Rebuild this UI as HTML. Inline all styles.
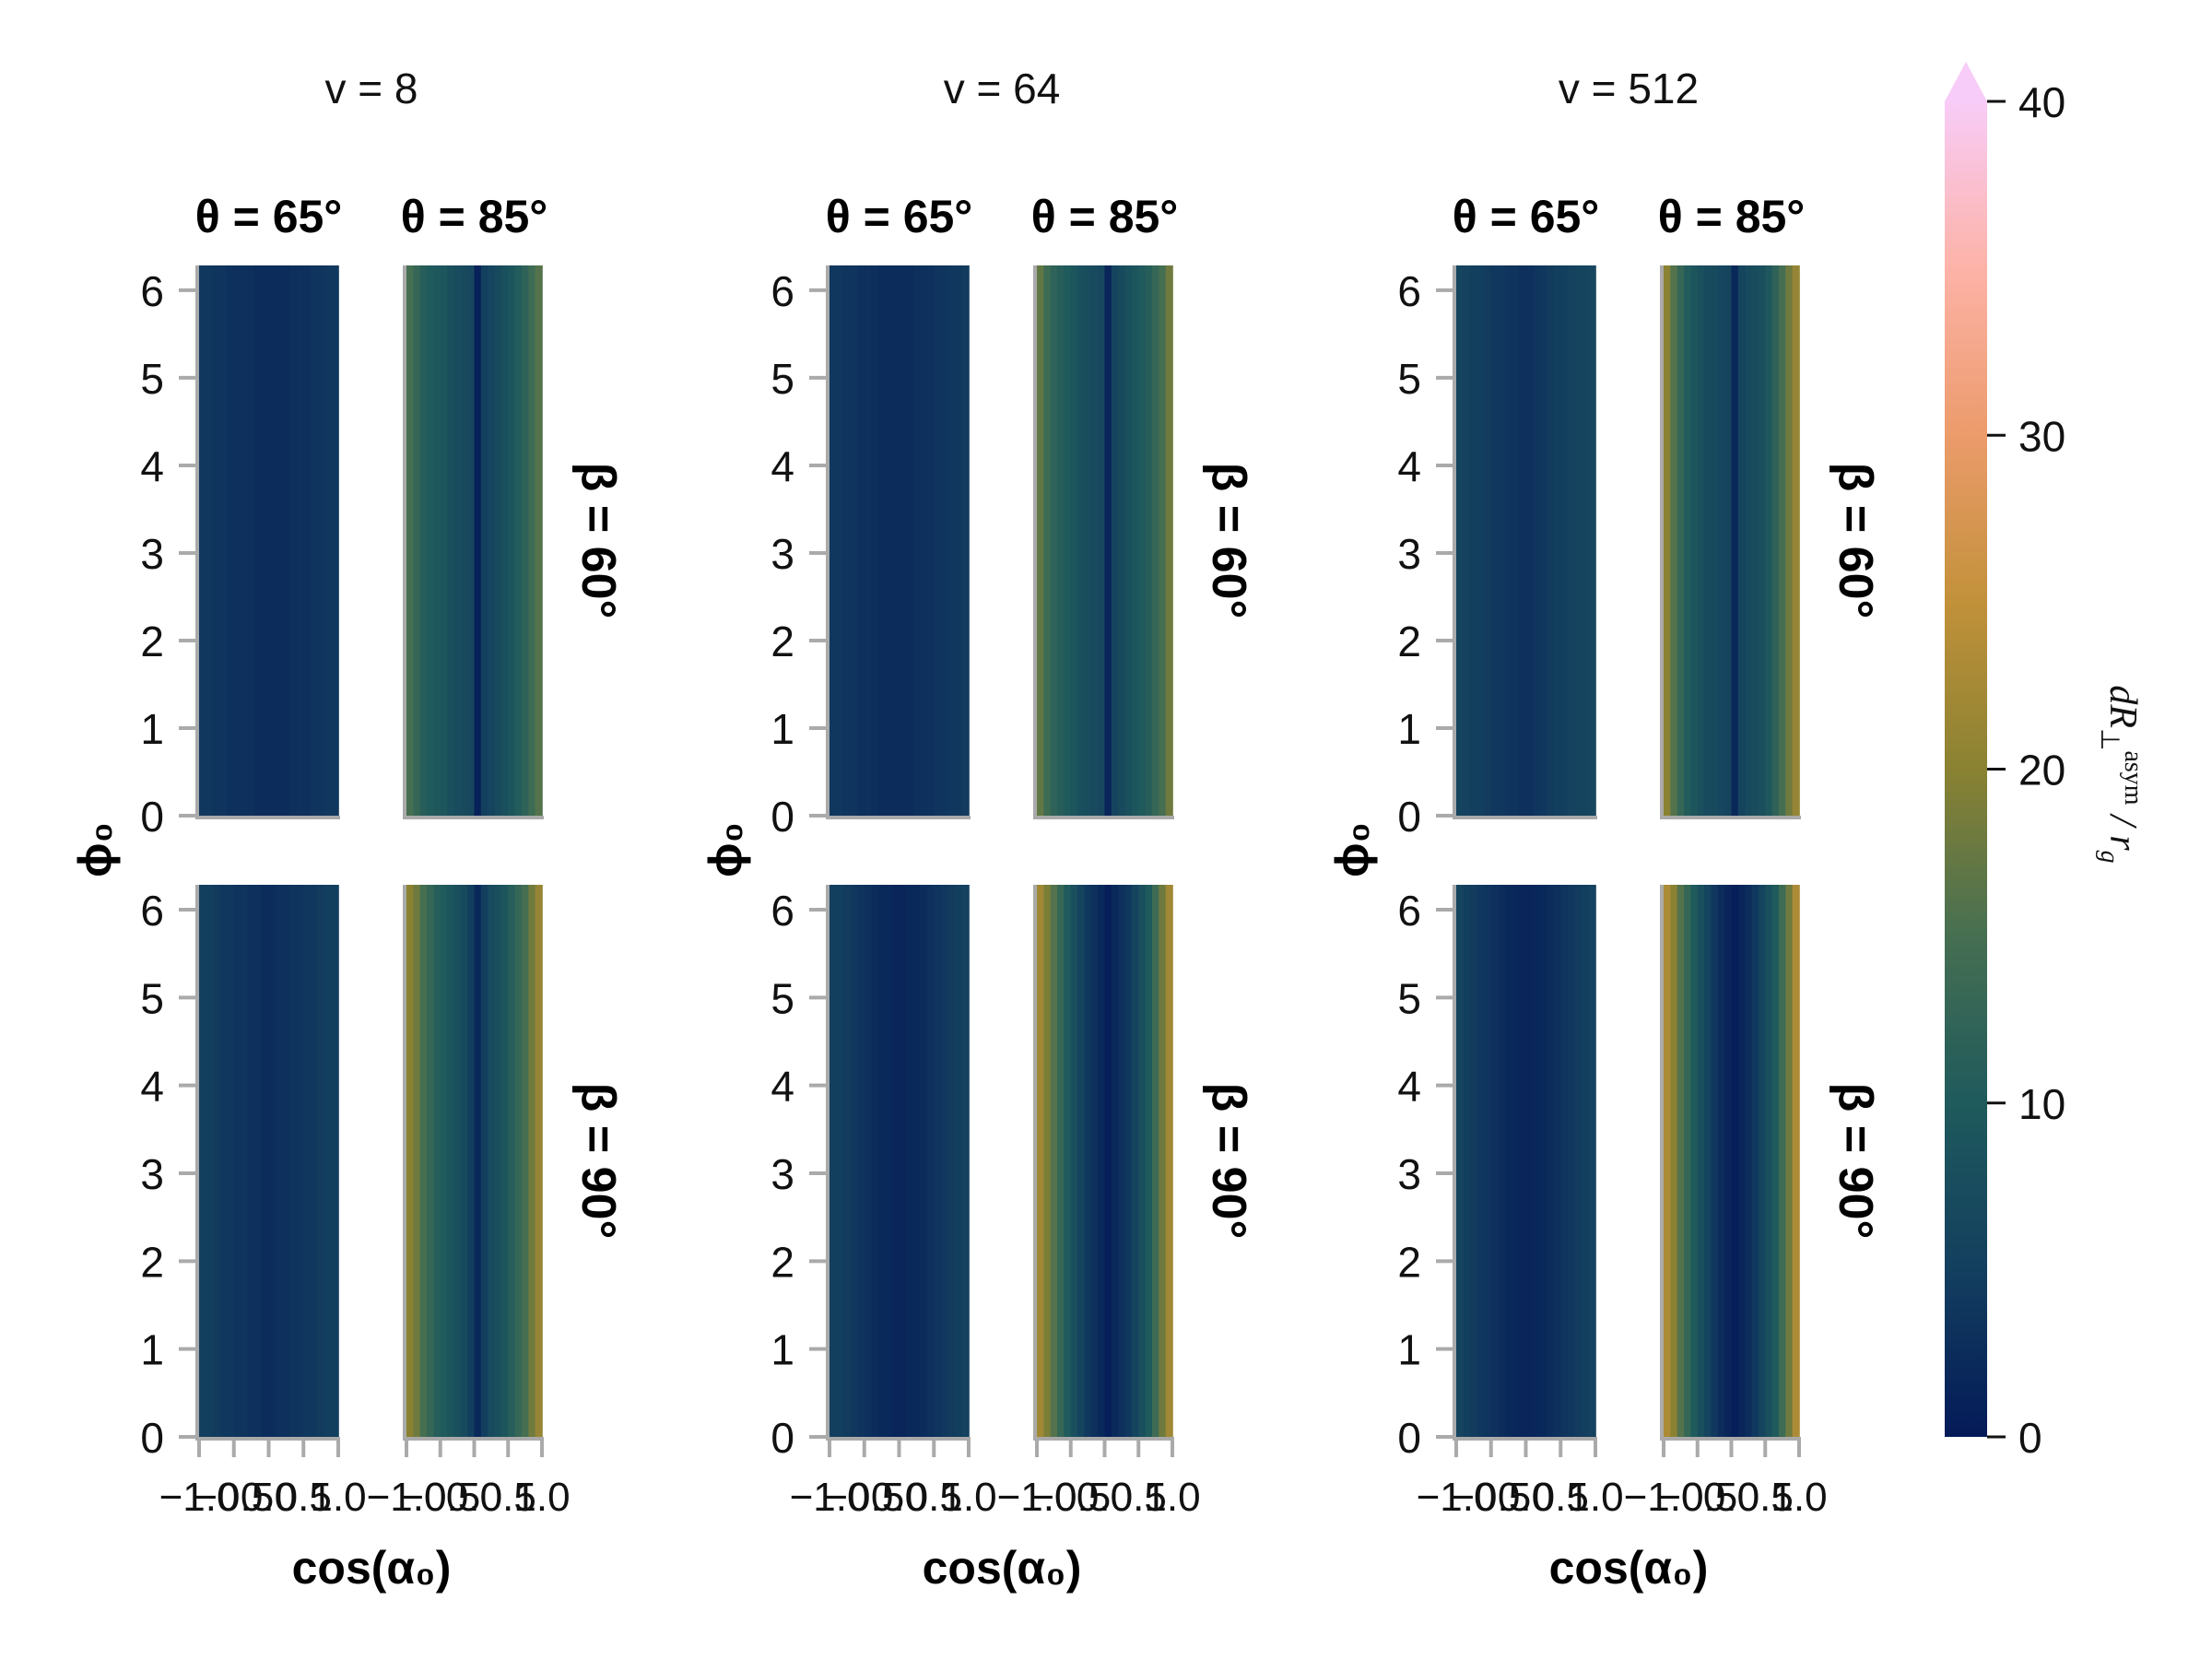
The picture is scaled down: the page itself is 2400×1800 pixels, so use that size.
<!DOCTYPE html>
<html><head><meta charset="utf-8"><style>
html,body{margin:0;padding:0;background:#fff;}
svg{display:block;font-family:"Liberation Sans",sans-serif;}
</style></head><body>
<svg id="chart" width="2400" height="1800" viewBox="0 0 2400 1800" xmlns="http://www.w3.org/2000/svg">
<defs>
<linearGradient id="cbgrad" x1="0" y1="1" x2="0" y2="0">
<stop offset="0" stop-color="#041a58"/><stop offset="0.125" stop-color="#133f5f"/>
<stop offset="0.25" stop-color="#1f5a5c"/><stop offset="0.375" stop-color="#466f52"/>
<stop offset="0.5" stop-color="#8a8232"/><stop offset="0.625" stop-color="#c2913a"/>
<stop offset="0.75" stop-color="#ec9b6b"/><stop offset="0.875" stop-color="#fdb3a8"/>
<stop offset="1" stop-color="#f8ccf8"/>
</linearGradient>
</defs>
<g id="root"></g>
</svg>
<script>
// ---- data ----
const velocities = ["v = 8", "v = 64", "v = 512"];
const thetas = ["θ = 65°", "θ = 85°"];
const betas = ["β = 60°", "β = 90°"];
const yTicks = [0, 1, 2, 3, 4, 5, 6];
const xTicks = [-1.0, -0.5, 0.0, 0.5, 1.0];
const xTickLabels = ["−1.0", "−0.5", "0.0", "0.5", "1.0"];
const cbTicks = [0, 10, 20, 30, 40];
// column profiles across cos(alpha0) (20 bins), per velocity / beta / theta
const v8_b60_t65 = [4,4,3.5,3.5,3,3,3,2.8,2.5,2.5,2.5,2.5,2.5,2.8,3,3,3.5,3.5,4,4];
const v8_b60_t85 = [15,13,11,10,9.5,9,8,7.5,7,6.5,1,5,6,7,8,9,10.5,12,14,16];
const v8_b90_t65 = [5,5,4.5,4,4,3.5,3.5,3,3,2.5,2.5,3,3,3.5,3.5,4,4,4.5,5,5];
const v8_b90_t85 = [20,18,15,13,11,10,9,8,7,5,2,5,7,8,9,11,13,15,18,21];
const v64_b60_t65 = [4,4,3.5,3.5,3,3,2.8,2.5,2.5,2.5,2.5,2.5,2.8,3,3,3.5,3.5,4,4,4.5];
const v64_b60_t85 = [17,14,12,11,10,9,8,7.5,7,6.5,1.5,6,7,8,9,10,11,13,15,18];
const v64_b90_t65 = [5,5,4.5,4,3.5,3,2.5,2,2,1.5,1.5,2,2,2.5,3,3.5,4,4.5,5,5.5];
const v64_b90_t85 = [22,19,16,13,10,8,6,4,3,2,0.5,2,3,4,6,8,10,14,18,22];
const v512_b60_t65 = [6,5.5,5,5,4.5,4,4,3.5,3.5,3,3,3.5,4,4.5,5,5,5.5,6,6,6.5];
const v512_b60_t85 = [20,16,13,10.5,9,8,7,7,6.5,6,2,6,7,7.5,8,9.5,12,15,18,21];
const v512_b90_t65 = [6,5,4.5,4,3.5,3,2.5,2,1.8,1.5,1.5,1.8,2,2.5,3,3.5,4,4.5,5,5.5];
const v512_b90_t85 = [23,20,16,13,10,8,6,4,2.5,1.5,0.5,1.5,2.5,4,6,8,10,14,18,23];
const panelData = [
  [[v8_b60_t65, v8_b60_t85],[v8_b90_t65, v8_b90_t85]],
  [[v64_b60_t65, v64_b60_t85],[v64_b90_t65, v64_b90_t85]],
  [[v512_b60_t65, v512_b60_t85],[v512_b90_t65, v512_b90_t85]]
];

// ---- layout ----
const NS = "http://www.w3.org/2000/svg";
const root = document.getElementById("root");
function mk(tag, attrs, parent, text){
  const e = document.createElementNS(NS, tag);
  for (const k in attrs) e.setAttribute(k, attrs[k]);
  if (text !== undefined) e.textContent = text;
  (parent || root).appendChild(e);
  return e;
}
const stops = [[0,[4,26,88]],[5,[19,63,95]],[10,[31,90,92]],[15,[70,111,82]],[20,[138,130,50]],[25,[194,145,58]],[30,[236,155,107]],[35,[253,179,168]],[40,[248,204,248]]];
function cmap(v){
  v = Math.max(0, Math.min(40, v));
  for (let i = 0; i < stops.length - 1; i++){
    const a = stops[i], b = stops[i+1];
    if (v <= b[0]){
      const t = (v - a[0]) / (b[0] - a[0]);
      const c = a[1].map((x, j) => Math.round(x + (b[1][j] - x) * t));
      return "rgb(" + c.join(",") + ")";
    }
  }
  return "rgb(248,204,248)";
}
const colOffsets = [0, 684, 1364];
const panelX = [[216, 367], [441, 588]];
const rowY = [[288, 885], [960, 1559]];
const YMAX = 2 * Math.PI;
function yScale(row, v){ const [t, b] = rowY[row]; return b - (v / YMAX) * (b - t); }
function xScale(c, p, v){ const [l, r] = panelX[p]; const o = colOffsets[c]; return o + l + (v + 1) / 2 * (r - l); }
const axisColor = "#aaaaaa";

velocities.forEach((vl, c) => {
  const off = colOffsets[c];
  const g = mk("g", {});
  
  
  const ct = mk("text", {x: off + 403, y: 112, "text-anchor": "middle", "font-size": 46, fill: "#111"}, g, vl);
  
  
  thetas.forEach((th, p) => {
    const cx = off + (panelX[p][0] + panelX[p][1]) / 2;
    const tt = mk("text", {x: cx, y: 252, "text-anchor": "middle", "font-size": 50, "font-weight": "bold", fill: "#000"}, g, th);
    
    
  });
  betas.forEach((bl, row) => {
    thetas.forEach((th, p) => {
      const vals = panelData[c][row][p];
      const n = vals.length;
      const pg = mk("g", {}, g);
      
      
      const top = yScale(row, YMAX), bot = yScale(row, 0);
      vals.forEach((v, i) => {
        const x0 = xScale(c, p, -1 + 2 * i / n), x1 = xScale(c, p, -1 + 2 * (i + 1) / n);
        const r = mk("rect", {x: x0, y: top, width: x1 - x0 + 0.8, height: bot - top, fill: cmap(v)}, pg);
        
        
      });
      const L = off + panelX[p][0], R = off + panelX[p][1];
      const sp = mk("path", {d: `M${L-2},${top} V${bot+2} H${R+2}`, stroke: axisColor, "stroke-width": 4, fill: "none"}, pg);
      
      
      if (row === 1){
        xTicks.forEach((xt, k) => {
          const xx = xScale(c, p, xt);
          const tk = mk("line", {x1: xx, x2: xx, y1: bot + 2, y2: bot + 22, stroke: axisColor, "stroke-width": 4}, pg);
          
          
          const tl = mk("text", {x: xx, y: bot + 80, "text-anchor": "middle", "font-size": 44, fill: "#111"}, pg, xTickLabels[k]);
          
          
        });
      }
    });
    const L = off + panelX[0][0];
    yTicks.forEach(yt => {
      const yy = yScale(row, yt);
      const tk = mk("line", {x1: L - 22, x2: L - 2, y1: yy, y2: yy, stroke: axisColor, "stroke-width": 4}, g);
      
      
      const tl = mk("text", {x: L - 38, y: yy + 17, "text-anchor": "end", "font-size": 46, fill: "#111"}, g, String(yt));
      
      
    });
    const by = (rowY[row][0] + rowY[row][1]) / 2;
    const bx = off + 632;
    const bt = mk("text", {x: bx, y: by, "text-anchor": "middle", "font-size": 52, "font-weight": "bold", fill: "#000", transform: `rotate(90 ${bx} ${by})`}, g, bl);
    
    
  });
  const yx = off + 104, yy = 922;
  const yl = mk("text", {x: yx, y: yy + 16, "text-anchor": "middle", "font-size": 50, "font-weight": "bold", fill: "#000", transform: `rotate(-90 ${yx} ${yy})`}, g, "ϕ₀");
  
  
  const xl = mk("text", {x: off + 403, y: 1718, "text-anchor": "middle", "font-size": 50, "font-weight": "bold", fill: "#000"}, g, "cos(α₀)");
  
  
});

const cbL = 2110, cbR = 2156, cbTop = 110, cbBot = 1559;
const cg = mk("g", {});


const cbr = mk("rect", {x: cbL, y: cbTop - 1, width: cbR - cbL, height: cbBot - cbTop + 1, fill: "url(#cbgrad)"}, cg);


const tri = mk("path", {d: `M${cbL},${cbTop} L${(cbL+cbR)/2},${cbTop-43} L${cbR},${cbTop} Z`, fill: "#f8ccf8"}, cg);


cbTicks.forEach(t => {
  const yy = cbBot - t / 40 * (cbBot - cbTop);
  const tk = mk("line", {x1: cbR, x2: cbR + 20, y1: yy, y2: yy, stroke: "#111", "stroke-width": 3}, cg);
  
  
  const tl = mk("text", {x: cbR + 34, y: yy + 17, "font-size": 46, fill: "#111"}, cg, String(t));
  
  
});
const lx = 2290, ly = 840;
const cl = mk("text", {x: lx, y: ly, "text-anchor": "middle", "font-size": 42, "font-style": "italic", "font-family": "Liberation Serif, serif", fill: "#111", transform: `rotate(90 ${lx} ${ly})`}, cg);


mk("tspan", {}, cl, "dR");
mk("tspan", {"font-size": 28, dy: 10, "font-style": "normal"}, cl, "⊥");
mk("tspan", {"font-size": 28, dy: -26, "font-style": "normal"}, cl, "asym");
mk("tspan", {dy: 16}, cl, " / r");
mk("tspan", {"font-size": 28, dy: 10}, cl, "g");
</script>
</body></html>
